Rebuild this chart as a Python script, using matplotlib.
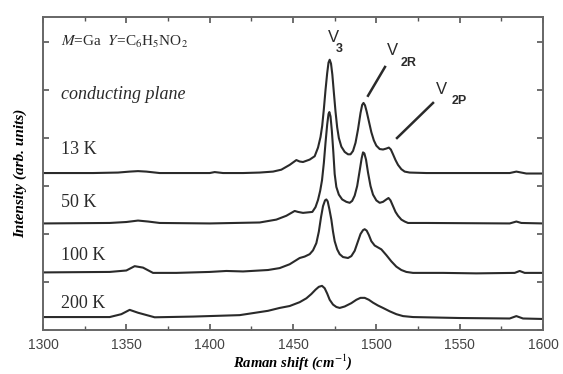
import matplotlib
matplotlib.use("Agg")
import matplotlib.pyplot as plt
from matplotlib.ticker import MultipleLocator, NullFormatter

x_13k = [1300, 1330, 1345, 1352, 1357, 1362, 1370, 1390, 1400, 1403, 1408, 1420, 1430, 1438,
         1443, 1448, 1452, 1454, 1456, 1460, 1463, 1465, 1466.5, 1467.5, 1468.5, 1469.5, 1470.5,
         1471.3, 1472, 1472.8, 1473.6, 1474.5, 1475.5, 1476.5, 1477.5, 1479, 1481, 1483, 1484.5,
         1486, 1487.5, 1489, 1490.5, 1491.5, 1492.3, 1493.2, 1494.2, 1495.5, 1497, 1498.5, 1500,
         1502, 1504, 1506, 1507.5, 1508.7, 1510, 1511.5, 1513, 1515, 1517, 1520, 1530, 1560,
         1580, 1584, 1587, 1590, 1600]
y_13k = [3.27, 3.27, 3.28, 3.30, 3.31, 3.30, 3.27, 3.27, 3.27, 3.29, 3.27, 3.27, 3.28, 3.30,
         3.34, 3.44, 3.54, 3.51, 3.50, 3.55, 3.62, 3.80, 4.02, 4.25, 4.60, 5.00, 5.35,
         5.57, 5.63, 5.55, 5.32, 4.95, 4.55, 4.22, 4.00, 3.82, 3.71, 3.66, 3.66,
         3.73, 3.90, 4.18, 4.52, 4.69, 4.73, 4.68, 4.55, 4.35, 4.12, 3.95, 3.84,
         3.77, 3.76, 3.78, 3.80, 3.76, 3.66, 3.54, 3.44, 3.35, 3.30, 3.28, 3.27, 3.27,
         3.27, 3.30, 3.28, 3.26, 3.26]

x_50k = [1300, 1340, 1350, 1357, 1363, 1370, 1400, 1430, 1440, 1446, 1451, 1453, 1456, 1461.6,
         1463.5, 1465, 1466.3, 1467.4, 1468.5, 1469.5, 1470.5, 1471.3, 1471.8, 1472.5, 1473.3,
         1474.2, 1475, 1476, 1477.5, 1479.5, 1482, 1484, 1485.5, 1487, 1488.5, 1490, 1491.2,
         1492, 1492.8, 1493.8, 1495, 1496.5, 1498, 1500, 1502, 1504, 1506, 1507.3, 1508.5, 1510,
         1511.5, 1513, 1515, 1517, 1519, 1530, 1580, 1584, 1587, 1600]
y_50k = [2.22, 2.23, 2.25, 2.28, 2.26, 2.23, 2.22, 2.24, 2.30, 2.38, 2.48, 2.46, 2.44, 2.46,
         2.56, 2.71, 2.90, 3.12, 3.48, 3.90, 4.28, 4.50, 4.54, 4.45, 4.15,
         3.70, 3.25, 2.98, 2.82, 2.72, 2.67, 2.65, 2.69, 2.80, 3.00, 3.32, 3.58,
         3.70, 3.68, 3.55, 3.28, 3.00, 2.82, 2.70, 2.65, 2.67, 2.72, 2.75, 2.70, 2.58,
         2.46, 2.38, 2.30, 2.26, 2.23, 2.23, 2.22, 2.26, 2.23, 2.22]

x_100k = [1300, 1340, 1350, 1355, 1360, 1366, 1380, 1400, 1410, 1420, 1435, 1442, 1448, 1454,
          1457, 1460, 1462, 1464, 1465.5, 1466.8, 1468, 1469.2, 1470, 1470.8, 1471.8, 1473, 1474,
          1475, 1476.5, 1478, 1480, 1483, 1485, 1487, 1489, 1490.5, 1492, 1493, 1494.2, 1495.5,
          1497, 1499, 1501, 1503, 1506, 1509, 1512, 1515, 1518, 1522, 1540, 1560, 1583, 1586,
          1589, 1600]
y_100k = [1.20, 1.21, 1.24, 1.33, 1.30, 1.19, 1.19, 1.21, 1.23, 1.22, 1.25, 1.29, 1.37, 1.50,
          1.53, 1.58, 1.66, 1.81, 2.05, 2.35, 2.58, 2.70, 2.72, 2.68, 2.52, 2.30, 2.05,
          1.85, 1.68, 1.58, 1.52, 1.50, 1.54, 1.65, 1.85, 2.00, 2.08, 2.10, 2.07, 1.98,
          1.85, 1.76, 1.72, 1.68, 1.56, 1.43, 1.32, 1.25, 1.21, 1.19, 1.19, 1.18, 1.19, 1.23,
          1.19, 1.19]

x_200k = [1300, 1340, 1347, 1352, 1357, 1367, 1390, 1418, 1435, 1442, 1448, 1454, 1458, 1461,
          1463.5, 1465.5, 1467.4, 1469, 1470.5, 1472, 1474, 1476, 1478, 1481, 1485, 1488, 1490.5,
          1493, 1495.5, 1498, 1501, 1504, 1508, 1512, 1516, 1522, 1550, 1580, 1584, 1588, 1600]
y_200k = [0.27, 0.27, 0.33, 0.42, 0.36, 0.265, 0.28, 0.31, 0.40, 0.46, 0.50, 0.58, 0.66, 0.75,
          0.84, 0.90, 0.92, 0.87, 0.76, 0.63, 0.53, 0.48, 0.46, 0.49, 0.56, 0.63, 0.67,
          0.67, 0.63, 0.57, 0.51, 0.46, 0.39, 0.33, 0.29, 0.27, 0.25, 0.24, 0.29, 0.24, 0.23]

temp_labels = ["13 K", "50 K", "100 K", "200 K"]
temp_label_y = [3.75, 2.65, 1.55, 0.56]

plt.rcParams["font.family"] = ["Liberation Serif", "DejaVu Serif"]
plt.rcParams["mathtext.fontset"] = "stix"

fig = plt.figure(figsize=(5.63, 3.74), dpi=100)
ax = fig.add_axes([0.0764, 0.1176, 0.8881, 0.8369])

ink = "#2a2a2a"
for xs, ys in [(x_13k, y_13k), (x_50k, y_50k), (x_100k, y_100k), (x_200k, y_200k)]:
    ax.plot(xs, ys, color=ink, lw=1.5, solid_joinstyle="round")

ax.set_xlim(1300, 1600)
ax.set_ylim(0, 6.52)

ax.xaxis.set_major_locator(MultipleLocator(50))
ax.xaxis.set_minor_locator(MultipleLocator(25))
ax.yaxis.set_major_locator(MultipleLocator(1))
ax.yaxis.set_major_formatter(NullFormatter())
ax.tick_params(which="both", direction="in", top=True, right=True, colors="#555555")
ax.tick_params(which="major", length=4, width=1.2)
ax.tick_params(which="minor", length=3, width=1.0)
ax.tick_params(axis="x", labelsize=10, pad=6)
for lab in ax.get_xticklabels():
    lab.set_family(["Liberation Sans", "DejaVu Sans"])
    lab.set_color("#444444")
for s in ax.spines.values():
    s.set_linewidth(1.4)
    s.set_color("#666666")

ax.set_xlabel("Raman shift (cm$^{-1}$)", fontsize=10.5, fontweight="bold", style="italic",
              labelpad=0)
ax.set_ylabel("Intensity (arb. units)", fontsize=11, fontweight="bold", style="italic",
              labelpad=8)

for lab, yy in zip(temp_labels, temp_label_y):
    ax.text(1311, yy, lab, fontsize=13, color=ink, va="center", ha="left")

ax.text(1311, 6.00, "$M$=Ga  $Y$=C$_6$H$_5$NO$_2$", fontsize=11, color=ink, va="center",
        ha="left")
ax.text(1311, 4.90, "conducting plane", fontsize=13, style="italic", color=ink,
        va="center", ha="left")

# peak labels
sans = ["Liberation Sans", "DejaVu Sans"]
ax.text(1474, 6.10, "V", fontsize=12, family=sans, color=ink, ha="center", va="center")
ax.text(1477.8, 5.86, "3", fontsize=9, family=sans, fontweight="bold", color=ink,
        ha="center", va="center")
ax.text(1509.4, 5.83, "V", fontsize=12, family=sans, color=ink, ha="center", va="center")
ax.text(1519.6, 5.56, "2R", fontsize=9, family=sans, fontweight="bold", color=ink,
        ha="center", va="center")
ax.text(1538.8, 5.00, "V", fontsize=12, family=sans, color=ink, ha="center", va="center")
ax.text(1549.5, 4.78, "2P", fontsize=9, family=sans, fontweight="bold", color=ink,
        ha="center", va="center")
ax.plot([1505.2, 1495.0], [5.48, 4.88], color=ink, lw=1.8)
ax.plot([1534.0, 1512.4], [4.73, 4.00], color=ink, lw=1.8)

fig.savefig("out.png", dpi=100, facecolor="white")
